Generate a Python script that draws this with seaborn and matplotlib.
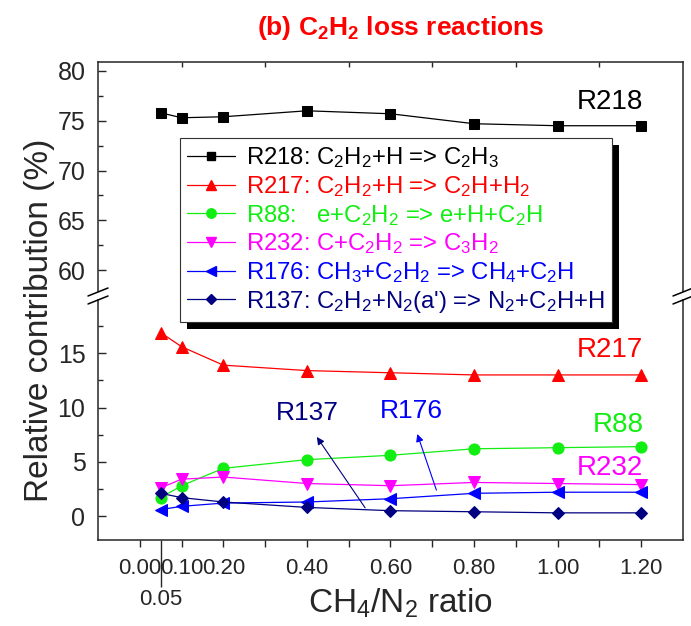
import numpy as np
import pandas as pd
import matplotlib
matplotlib.use('Agg')
import matplotlib.pyplot as plt
import seaborn as sns
from matplotlib.lines import Line2D
from matplotlib.patches import Rectangle
from matplotlib.ticker import MultipleLocator
from matplotlib.transforms import IdentityTransform

# ---------------- data ----------------
ratio = [0.05, 0.1, 0.2, 0.4, 0.6, 0.8, 1.0, 1.2]
r218 = [75.8, 75.3, 75.4, 76.0, 75.7, 74.7, 74.5, 74.5]
r217 = [16.9, 15.6, 13.9, 13.4, 13.2, 13.0, 13.0, 13.0]
r88 = [1.7, 2.8, 4.4, 5.2, 5.6, 6.2, 6.3, 6.4]
r232 = [2.6, 3.4, 3.6, 3.0, 2.8, 3.1, 3.0, 2.9]
r176 = [0.6, 0.9, 1.2, 1.3, 1.6, 2.1, 2.2, 2.2]
r137 = [2.1, 1.7, 1.3, 0.8, 0.5, 0.4, 0.3, 0.3]

series = [r218, r217, r88, r232, r176, r137]
short_names = ['R218', 'R217', 'R88', 'R232', 'R176', 'R137']
legend_labels = [
    r"R218: C$_2$H$_2$+H => C$_2$H$_3$",
    r"R217: C$_2$H$_2$+H => C$_2$H+H$_2$",
    r"R88:   e+C$_2$H$_2$ => e+H+C$_2$H",
    r"R232: C+C$_2$H$_2$ => C$_3$H$_2$",
    r"R176: CH$_3$+C$_2$H$_2$ => CH$_4$+C$_2$H",
    r"R137: C$_2$H$_2$+N$_2$(a') => N$_2$+C$_2$H+H",
]
xtick_major = [0.0, 0.1, 0.2, 0.4, 0.6, 0.8, 1.0, 1.2]
xtick_major_labels = ['0.00', '0.10', '0.20', '0.40', '0.60', '0.80', '1.00', '1.20']
xtick_minor = [0.3, 0.5, 0.7, 0.9, 1.1]
xtick_top = [0.1, 0.3, 0.5, 0.7, 0.9, 1.1]

colors = ['#000000', '#ff0000', '#11ee11', '#ff00ff', '#0000ff', '#000080']
markers = ['s', '^', 'o', 'v', '<', 'D']
msizes = [7.2, 8.5, 8.0, 8.5, 8.5, 6.5]

# ---------------- style ----------------
sns.set_style('ticks')
plt.rcParams['font.family'] = ['Liberation Sans', 'DejaVu Sans']
plt.rcParams['mathtext.fontset'] = 'custom'
plt.rcParams['mathtext.rm'] = 'Liberation Sans'
plt.rcParams['mathtext.it'] = 'Liberation Sans:italic'
plt.rcParams['mathtext.bf'] = 'Liberation Sans:bold'
plt.rcParams['axes.linewidth'] = 1.1

W, H = 691, 626
fig = plt.figure(figsize=(W / 100, H / 100), dpi=100)


def fx(px):
    return px / W


def fy(py):
    return 1 - py / H


left_px, right_px = 98, 683
ax_top = fig.add_axes([fx(left_px), fy(291), fx(right_px) - fx(left_px), fy(62) - fy(291)])
ax_bot = fig.add_axes([fx(left_px), fy(540), fx(right_px) - fx(left_px), fy(300) - fy(540)])

for ax in (ax_top, ax_bot):
    for vals, c, m, ms in zip(series, colors, markers, msizes):
        sns.lineplot(x=ratio, y=vals, ax=ax, color=c, marker=m, markersize=ms,
                     markeredgecolor=c, linewidth=0.9, legend=False)
    ax.set_xlim(-0.1, 1.3)
    ax.set_xlabel('')
    ax.set_ylabel('')
    ax.yaxis.set_minor_locator(MultipleLocator(2.5))
    ax.tick_params(axis='y', which='major', direction='in', length=5.8, width=1.0,
                   left=True, right=False, labelsize=18, pad=9)
    ax.tick_params(axis='y', which='minor', direction='in', length=3.6, width=1.0,
                   left=True, right=False)

ax_top.set_ylim(57.9, 80.9)
ax_top.set_yticks([60, 65, 70, 75, 80])
ax_bot.set_ylim(-2.2, 19.9)
ax_bot.set_yticks([0, 5, 10, 15])

ax_top.spines['bottom'].set_visible(False)
ax_bot.spines['top'].set_visible(False)

# top axis ticks (inward, odd tenths)
ax_top.set_xticks(xtick_top)
ax_top.tick_params(axis='x', which='both', bottom=False, top=True, direction='in',
                   length=3.6, width=1.0, labelbottom=False, labeltop=False)

# bottom axis ticks
ax_bot.set_xticks(xtick_major, labels=xtick_major_labels)
ax_bot.set_xticks(xtick_minor, minor=True)
ax_bot.tick_params(axis='x', which='both', direction='out', length=4.8, width=1.0,
                   top=False, labelsize=16, pad=8)

# special long tick for 0.05
sec = ax_bot.secondary_xaxis('bottom')
sec.set_xticks([0.05], labels=['0.05'])
sec.tick_params(axis='x', direction='out', length=34, width=1.0, labelsize=16, pad=1)
for s in sec.spines.values():
    s.set_visible(False)

# break marks
for xc in (left_px, right_px):
    for yc in (292, 300):
        fig.add_artist(Line2D([fx(xc - 10), fx(xc + 10)], [fy(yc + 4), fy(yc - 4)],
                              transform=fig.transFigure, color='black', lw=1.1))

# series labels
ax_top.text(1.205, 76.9, 'R218', color=colors[0], fontsize=20, ha='right', va='center')
ax_bot.text(1.205, 15.3, 'R217', color=colors[1], fontsize=20, ha='right', va='center')
ax_bot.text(1.205, 8.4, 'R88', color=colors[2], fontsize=20, ha='right', va='center')
ax_bot.text(1.205, 4.4, 'R232', color=colors[3], fontsize=20, ha='right', va='center')
ax_bot.text(0.40, 9.5, 'R137', color=colors[5], fontsize=19, ha='center', va='center')
ax_bot.text(0.650, 9.7, 'R176', color=colors[4], fontsize=19, ha='center', va='center')
ax_bot.annotate('', xy=(0.42, 7.5), xytext=(0.543, 0.55),
                arrowprops=dict(arrowstyle='-|>', color=colors[5], lw=0.8, mutation_scale=11))
ax_bot.annotate('', xy=(0.662, 7.8), xytext=(0.712, 2.15),
                arrowprops=dict(arrowstyle='-|>', color=colors[4], lw=0.8, mutation_scale=11))

# legend
handles = [Line2D([], [], color=c, marker=m, markersize=ms * 0.85, lw=0.9)
           for c, m, ms in zip(colors, markers, msizes)]
leg = fig.legend(handles, legend_labels, loc='upper left',
                 bbox_to_anchor=(fx(180), fy(138)), borderaxespad=0,
                 fontsize=17.2, labelcolor='linecolor', handlelength=2.0,
                 handletextpad=0.45, borderpad=0.3, labelspacing=0.16,
                 fancybox=False, edgecolor='#333333', framealpha=1)
leg.get_frame().set_linewidth(0.8)

# axis labels and title
fig.text(fx(40), fy(320), 'Relative contribution (%)', rotation=90, fontsize=24,
         ha='center', va='center')
fig.text(fx(400), fy(603), r'CH$_4$/N$_2$ ratio', fontsize=24, ha='center', va='center')
fig.text(fx(401), fy(28), r'(b) C$_\mathbf{2}$H$_\mathbf{2}$ loss reactions', color='#ff0000',
         fontsize=19, fontweight='bold', ha='center', va='center')

# legend shadow
fig.canvas.draw()
bb = leg.get_window_extent()
fig.add_artist(Rectangle((bb.x0 + 7, bb.y0 - 7), bb.width, bb.height,
                         transform=IdentityTransform(), facecolor='black',
                         edgecolor='none', zorder=leg.get_zorder() - 0.1))

fig.savefig('out.png', dpi=100)
